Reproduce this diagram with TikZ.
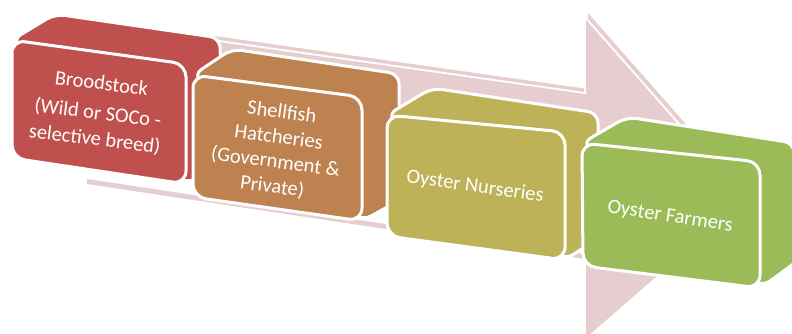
\documentclass[tikz,border=0pt]{standalone}
\usepackage{fontspec}
\setmainfont{Carlito}
\begin{document}
\definecolor{stockred}{HTML}{C0504D}
\definecolor{hatchbrown}{HTML}{BE8150}
\definecolor{nurseryolive}{HTML}{BDB257}
\definecolor{farmgreen}{HTML}{9BBB59}
\definecolor{arrowpink}{HTML}{E6CED0}
\begin{tikzpicture}[x=1pt,y=-1pt,
  face/.style={fill=#1, draw=white, line width=3pt, rounded corners=13pt, line join=round},
  shell/.style={fill=#1, draw=white, line width=3pt, rounded corners=10pt, line join=round},
  label/.style={text=white, align=center, font=\fontsize{20.5}{26}\selectfont, inner sep=0pt}]
\useasboundingbox (0,0) rectangle (792,333);

% big background arrow: rear layer, lower rim, front layer
\fill[arrowpink] (215,36) -- (588,89) -- (588,13) -- (749,196) -- (588,332) -- (588,237) -- (90,162) -- cycle;
\fill[arrowpink] (87,179) -- (585,254) -- (585,259) -- (87,184) -- cycle;
\filldraw[fill=arrowpink, draw=white, line width=1.8pt, line join=miter]
  (212,40) -- (585,93) -- (585,17) -- (746,200) -- (585,340) -- (585,241) -- (87,166) -- cycle;

% block 1
\draw[shell=stockred] (12,40) -- (55,14) -- (220,38) -- (222,165) -- (186,184) -- cycle;
\draw[face=stockred] (12,40) -- (186,64) -- (186,184) -- (12,158) -- cycle;
\node[label, rotate=-7] (brood) at (98,112)
  {Broodstock\\[4pt](Wild or SOCo -\\selective breed)};

% block 2
\draw[shell=hatchbrown] (193,75) -- (232,49) -- (399,74) -- (400,200) -- (362,221) -- cycle;
\draw[face=hatchbrown] (193,75) -- (362,97) -- (362,221) -- (193,197) -- cycle;
\node[label, rotate=-7.5, font=\fontsize{20.5}{25}\selectfont] (hatch) at (277,150)
  {Shellfish\\Hatcheries\\(Government \&\\Private)};

% block 3
\draw[shell=nurseryolive] (387,115) -- (432,88) -- (598,113) -- (598,238) -- (565,260) -- cycle;
\draw[face=nurseryolive] (387,115) -- (565,132) -- (565,260) -- (387,236) -- cycle;
\node[label, rotate=-8] (nursery) at (475,187) {Oyster Nurseries};

% block 4
\draw[shell=farmgreen] (582,143) -- (627,117) -- (794,143) -- (800,259) -- (762,287) -- cycle;
\draw[face=farmgreen] (582,143) -- (760,162) -- (760,288) -- (583,266) -- cycle;
\node[label, rotate=-8.5] (farm) at (670,217) {Oyster Farmers};
\end{tikzpicture}
\end{document}
